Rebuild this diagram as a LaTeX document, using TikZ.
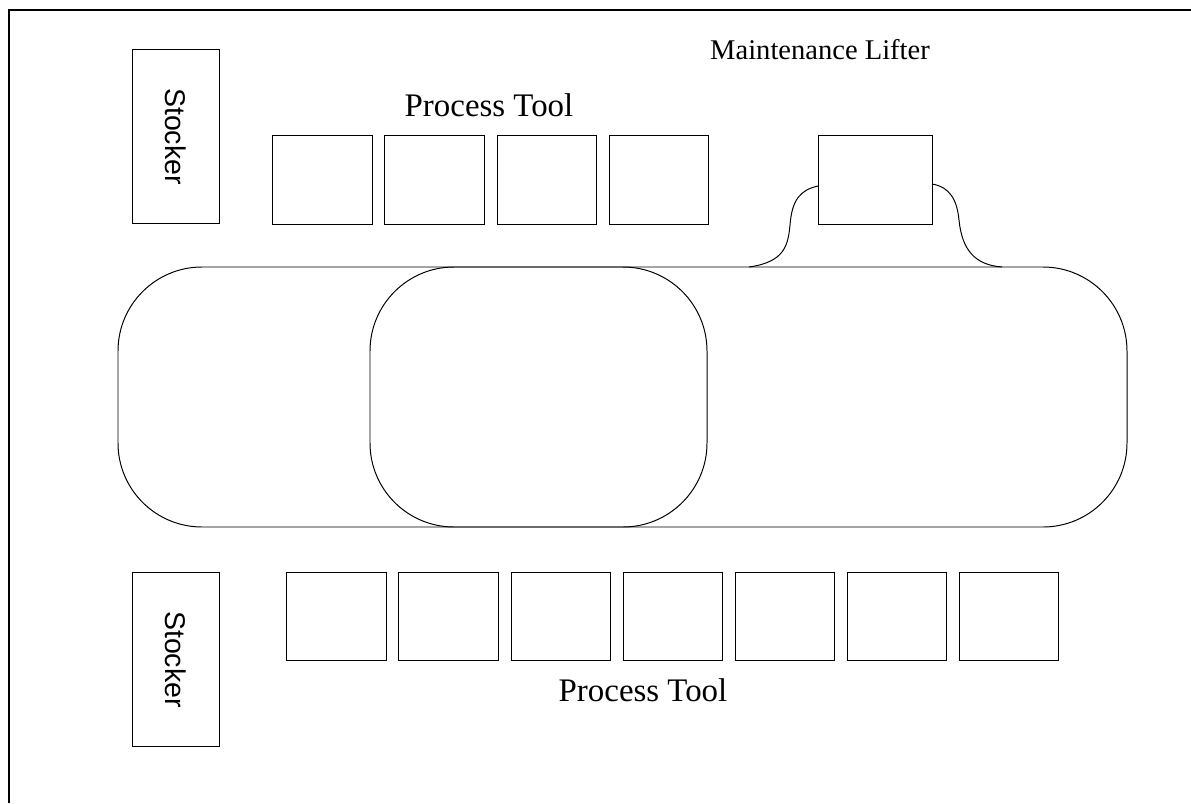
\documentclass[tikz,border=0pt]{standalone}
\usepackage{fontspec}
\setmainfont{Liberation Serif}
\newfontfamily\arialfont{Liberation Sans}
\usepackage{xcolor}

\tikzset{
  tool/.style={draw,line width=0.7pt,inner sep=0pt,outer sep=0pt,minimum width=2.475cm,minimum height=2.2cm},
  stockerbox/.style={draw,line width=0.7pt,inner sep=0pt,outer sep=0pt,minimum width=2.15cm,minimum height=4.325cm,font=\arialfont\fontsize{20.3}{24}\selectfont},
  lifterbox/.style={tool,minimum width=2.85cm},
  label/.style={inner sep=0pt,font=\fontsize{23.4}{28}\selectfont},
  track/.style={line width=0.7pt,rounded corners=2.1cm}
}

\begin{document}
\begin{tikzpicture}[x=0.025cm,y=-0.025cm]
  \useasboundingbox (0,0) rectangle (1191,803);
  \draw[line width=1.4pt] (9,803) -- (9,10) -- (1191,10);
  % stockers
  \node[stockerbox] (stk1) at (176,136.5) {\rotatebox{-90}{Stocker}};
  \node[stockerbox] (stk2) at (176,659.5) {\rotatebox{-90}{Stocker}};
  % process tools
  \foreach \i in {1,...,4}
    \node[tool] (top\i) at (322.5+112*\i-112,180) {};
  \foreach \i in {1,...,7}
    \node[tool] (bot\i) at (336.5+112*\i-112,616) {};
  \node[label] (toplbl) at (489,105) {Process Tool};
  \node[label] (botlbl) at (643,690) {Process Tool};
  % lifter
  \node[lifterbox] (lift) at (875,180) {};
  \node[label,font=\fontsize{20.3}{24}\selectfont] (liftlbl) at (820,50) {Maintenance Lifter};
  % track loops
  \draw[track] (118,267) rectangle (1127,527);
  \draw[track] (370,267) rectangle (707,527);
  \coordinate (jl) at (749,267);
  \coordinate (jr) at (1002,267);
  \draw[line width=0.7pt] (jl) .. controls (785,262) and (788,245) .. (790,225)
    .. controls (792,200) and (800,190) .. ([yshift=-0.15cm]lift.west);
  \draw[line width=0.7pt] ([yshift=-0.1cm]lift.east) .. controls (950,187) and (957,200) .. (959,220)
    .. controls (962,250) and (975,265) .. (jr);
\end{tikzpicture}
\end{document}
